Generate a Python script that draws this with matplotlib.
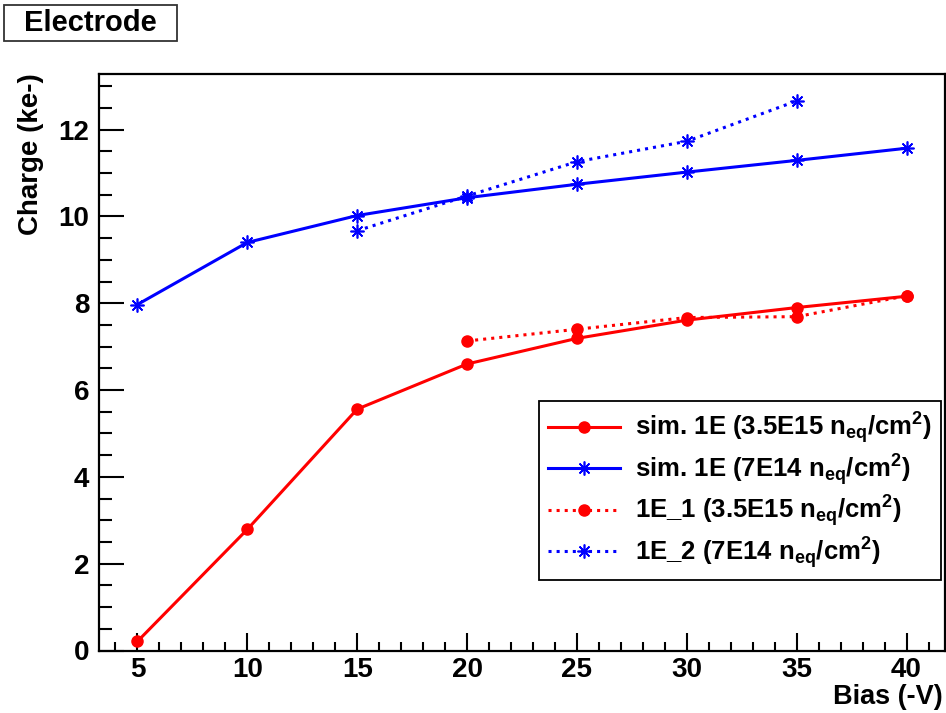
import matplotlib
matplotlib.use("Agg")
import matplotlib.pyplot as plt
from matplotlib.patches import Rectangle
from matplotlib.ticker import MultipleLocator

plt.rcParams['font.family'] = ['Liberation Sans', 'DejaVu Sans']
plt.rcParams['font.weight'] = 'bold'
plt.rcParams['mathtext.fontset'] = 'custom'
plt.rcParams['mathtext.rm'] = 'Liberation Sans:bold'
plt.rcParams['mathtext.it'] = 'Liberation Sans:bold'
plt.rcParams['mathtext.bf'] = 'Liberation Sans:bold'
plt.rcParams['mathtext.default'] = 'rm'

# bias voltages (-V)
bias_sim = [5, 10, 15, 20, 25, 30, 35, 40]
bias_1e1 = [20, 25, 30, 35, 40]
bias_1e2 = [15, 20, 25, 30, 35]

# collected charge (ke-)
sim_35e15 = [0.21, 2.79, 5.56, 6.60, 7.19, 7.61, 7.90, 8.16]
sim_7e14 = [7.97, 9.40, 10.02, 10.43, 10.74, 11.02, 11.29, 11.57]
meas_1e1 = [7.13, 7.40, 7.67, 7.69, 8.17]
meas_1e2 = [9.67, 10.47, 11.26, 11.73, 12.66]

labels = [r'sim. 1E (3.5E15 n$_{eq}$/cm$^{2}$)',
          r'sim. 1E (7E14 n$_{eq}$/cm$^{2}$)',
          r'1E_1 (3.5E15 n$_{eq}$/cm$^{2}$)',
          r'1E_2 (7E14 n$_{eq}$/cm$^{2}$)']

fig = plt.figure(figsize=(9.46, 7.13), dpi=100)
ax = fig.add_axes([99 / 946, (713 - 650.5) / 713, 846 / 946, 576.5 / 713])

star = (8, 2, 0)
ax.plot(bias_sim, sim_35e15, '-', color='#ff0000', lw=2.2, marker='o', ms=8, label=labels[0])
ax.plot(bias_sim, sim_7e14, '-', color='#0000ff', lw=2.2, marker=star, ms=10, mew=1.2, label=labels[1])
ax.plot(bias_1e1, meas_1e1, ':', color='#ff0000', lw=2.2, marker='o', ms=8, label=labels[2])
ax.plot(bias_1e2, meas_1e2, ':', color='#0000ff', lw=2.2, marker=star, ms=10, mew=1.2, label=labels[3])

ax.set_xlim(3.25, 41.75)
ax.set_ylim(0, 13.28)
ax.xaxis.set_major_locator(MultipleLocator(5))
ax.xaxis.set_minor_locator(MultipleLocator(1))
ax.yaxis.set_major_locator(MultipleLocator(2))
ax.yaxis.set_minor_locator(MultipleLocator(0.5))

for s in ax.spines.values():
    s.set_linewidth(1.6)
ax.tick_params(axis='both', which='both', direction='in', top=False, right=False,
               width=1.5, labelsize=20)
ax.tick_params(axis='x', which='major', length=13, pad=5)
ax.tick_params(axis='x', which='minor', length=6.5)
ax.tick_params(axis='y', which='major', length=18, pad=7)
ax.tick_params(axis='y', which='minor', length=9)
for lab in ax.get_xticklabels() + ax.get_yticklabels():
    lab.set_fontweight('bold')

fig.text(943 / 946, (713 - 697) / 713, 'Bias (-V)', ha='right', va='center',
         fontsize=19.5, fontweight='bold')
fig.text(31 / 946, (713 - 73) / 713, 'Charge (ke-)', ha='center', va='top',
         rotation=90, fontsize=20, fontweight='bold')

# title box
fig.patches.append(Rectangle((4 / 946, (713 - 41) / 713), 173 / 946, 36 / 713,
                             transform=fig.transFigure, facecolor='white',
                             edgecolor='#333333', lw=1.3))
fig.text(90 / 946, (713 - 23) / 713, 'Electrode', ha='center', va='center',
         fontsize=21, fontweight='bold')

leg = ax.legend(loc='lower right', bbox_to_anchor=(941 / 946, (713 - 580) / 713),
                bbox_transform=fig.transFigure, borderaxespad=0, fancybox=False,
                edgecolor='black', prop={'size': 18.5, 'weight': 'bold'},
                handlelength=2.8, handletextpad=0.6, labelspacing=0.22,
                borderpad=0.35, framealpha=1)
leg.get_frame().set_linewidth(1.3)

fig.savefig('out.png', dpi=100)
